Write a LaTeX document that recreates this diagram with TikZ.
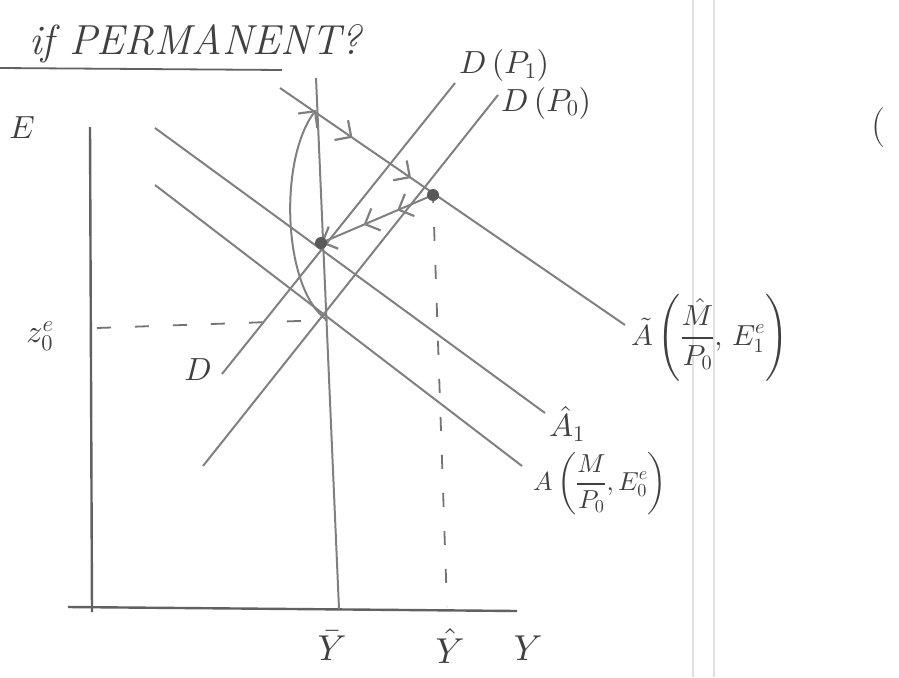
\documentclass[tikz,border=0pt]{standalone}
\DeclareFontShape{OML}{cmm}{m}{it}{<-> cmmi10}{\skewchar\font'177}
\DeclareFontShape{OT1}{cmr}{m}{n}{<-> cmr10}{}
\DeclareFontShape{OMS}{cmsy}{m}{n}{<-> cmsy10}{\skewchar\font'60}
\DeclareFontShape{OMX}{cmex}{m}{n}{<-> cmex10}{}
\usetikzlibrary{arrows.meta,decorations.markings}
\begin{document}
\begin{tikzpicture}[x=1pt,y=-1pt,
  curve/.style={draw=black!50, line width=2pt},
  axis/.style={draw=black!62, line width=2.4pt},
  dashline/.style={draw=black!55, line width=1.8pt, dash pattern=on 14pt off 24pt},
  lbl/.style={text=black!75, font=\fontsize{32}{34}\selectfont\itshape, inner sep=1pt},
  dot/.style={circle, fill=black!65, inner sep=0pt, minimum size=12pt},
  barb/.tip={Straight Barb[length=12pt,width=24pt,line width=2.2pt]},
  gutter/.style={draw=black!12, line width=1.5pt}]
\useasboundingbox (0,0) rectangle (899,677);
% page gutter lines
\draw[gutter] (693,0) -- (693,677);
\draw[gutter] (714,0) -- (714,677);
% title
\node[lbl, anchor=south west, font=\fontsize{42}{44}\selectfont\itshape] (title) at (28,64) {if PERMANENT?};
\coordinate (ulA) at (0,68); \coordinate (ulB) at (282,70);
\draw[axis, line width=1.8pt] (ulA) -- (ulB);
% axes
\coordinate (Etop) at (90,127);
\coordinate (Ebot) at (92,612);
\coordinate (Yend) at (517,611);
\coordinate (Ostart) at (68,607);
\draw[axis] (Etop) -- (Ebot);
\draw[axis] (Ostart) -- (Yend);
\node[lbl] (Elab) at (22,128) {$E$};
\node[lbl, font=\fontsize{36}{38}\selectfont] (Ylab) at (528,648) {$Y$};
\node[lbl, font=\fontsize{36}{38}\selectfont] (Ybar) at (332,646) {$\bar{Y}$};
\node[lbl, font=\fontsize{36}{38}\selectfont] (Yhat) at (450,646) {$\hat{Y}$};
\node[lbl] (zlab) at (40,336) {$z^{e}_{0}$};
% key points
\coordinate (E0) at (327,320);
\coordinate (E1) at (433,195);
\coordinate (E2) at (321,243);
\coordinate (T) at (316,110);
% Ybar vertical
\coordinate (YbT) at (316,78); \coordinate (YbB) at (339,609);
\draw[curve] (YbT) -- (YbB);
% dashed guides
\coordinate (dZ) at (97,328);
\draw[dashline] (dZ) -- (E0);
\coordinate (dY) at (447,607);
\draw[dashline, dash phase=6pt] (E1) -- (dY);
% D(P0)
\coordinate (D0a) at (203,466); \coordinate (D0b) at (498,95);
\draw[curve] (D0a) -- (D0b);
\node[lbl, anchor=west] (D0lab) at (500,103) {$D\,(P_0)$};
% D(P1)
\coordinate (D1a) at (222,374); \coordinate (D1b) at (455,83);
\draw[curve] (D1a) -- (D1b);
\node[lbl, anchor=west] (D1lab) at (458,66) {$D\,(P_1)$};
\node[lbl] (Dlab) at (198,370) {$D$};
% A lines
\coordinate (Ata) at (280,88); \coordinate (Atb) at (625,325);
\draw[curve, postaction={decorate}, decoration={markings,
   mark=at position 0.21 with {\arrow{barb}},
   mark=at position 0.38 with {\arrow{barb}}}] (Ata) -- (Atb);
\node[lbl, anchor=west, font=\fontsize{29}{31}\selectfont] (Atlab) at (630,338) {$\displaystyle\tilde{A}\left(\frac{\hat{M}}{P_0},\,E^{e}_{1}\right)$};
\coordinate (A1a) at (155,128); \coordinate (A1b) at (545,413);
\draw[curve] (A1a) -- (A1b);
\node[lbl, anchor=west] (A1lab) at (548,424) {$\hat{A}_1$};
\coordinate (A0a) at (155,185); \coordinate (A0b) at (522,466);
\draw[curve] (A0a) -- (A0b);
\node[lbl, anchor=west, font=\fontsize{26}{28}\selectfont] (A0lab) at (532,484) {$\displaystyle A\left(\frac{M}{P_0},E^{e}_{0}\right)$};
% adjustment path
\draw[curve, -{barb}, postaction={decorate}, decoration={markings,
   mark=at position 0.32 with {\arrow{barb}},
   mark=at position 0.62 with {\arrow{barb}}}] (E1) -- (E2);
\draw[curve, -{barb}] (E0) .. controls (283,290) and (278,160) .. (T);
\node[dot] (dot1) at (E1) {};
\node[dot] (dot2) at (E2) {};
% partial bracket at right edge
\node[lbl, anchor=west, font=\fontsize{40}{42}\selectfont] (paren) at (870,128) {(};
\end{tikzpicture}
\end{document}
